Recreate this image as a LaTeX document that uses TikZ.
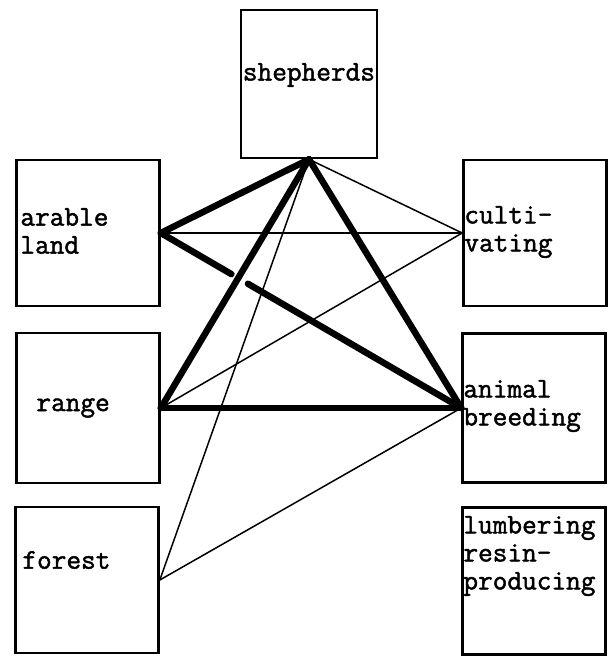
\documentclass[tikz,border=0pt]{standalone}
\usepackage{fontspec}
\newfontfamily\typer{Latin Modern Mono}[FakeBold=1.6]
\usetikzlibrary{calc}

\begin{document}
\begin{tikzpicture}[x=1pt, y=-1pt,
    box/.style={draw, line width=2.6pt, inner sep=0pt, minimum width=143pt, minimum height=146pt},
    tag/.style={anchor=west, align=left, inner sep=0pt, font=\fontsize{28.5}{28}\typer},
    strong link/.style={draw, line width=6.5pt, line cap=round},
    weak link/.style={draw, line width=1.5pt}
  ]
  \useasboundingbox (0,0) rectangle (612,658);

  % the seven boxes
  \node[box, minimum width=136pt, minimum height=148pt] (shepherds) at (309,84) {};
  \node[box] (arable) at (88,233) {};
  \node[box] (cultivating) at (535,233) {};
  \node[box, minimum height=150pt] (range) at (88,408) {};
  \node[box, minimum height=149pt] (breeding) at (534,408) {};
  \node[box] (forest) at (87,580) {};
  \node[box, minimum height=147pt] (lumbering) at (534,581) {};

  \node[tag] (shepherds text) at ([xshift=3pt, yshift=9pt]shepherds.west) {shepherds};
  \node[tag] (arable text) at ([xshift=5pt, yshift=2pt]arable.west) {arable\\land};
  \node[tag] (cultivating text) at ([xshift=2pt, yshift=1pt]cultivating.west) {culti-\\vating};
  \node[tag] (range text) at ([xshift=21pt]range.west) {range};
  \node[tag] (breeding text) at ([xshift=2pt, yshift=2pt]breeding.west) {animal\\breeding};
  \node[tag] (forest text) at ([xshift=8pt, yshift=20pt]forest.west) {forest};
  \node[tag] (lumbering text) at ([xshift=2pt, yshift=25pt]lumbering.west) {lumbering\\resin-\\producing};

  % weak ties
  \begin{scope}[every path/.style={weak link}]
    \path (shepherds.south) -- (cultivating.west);
    \path (shepherds.south) -- (forest.east);
    \path (arable.east) -- (cultivating.west);
    \path (range.east) -- (cultivating.west);
    \path (forest.east) -- (breeding.west);
  \end{scope}

  % strong ties
  \begin{scope}[every path/.style={strong link}]
    \path (shepherds.south) -- (arable.east);
    \path (shepherds.south) -- (range.east);
    \path (shepherds.south) -- (breeding.west);
    \path (range.east) -- (breeding.west);
    \path (arable.east) -- ($(arable.east)!0.235!(breeding.west)$);
    \path ($(arable.east)!0.29!(breeding.west)$) -- (breeding.west);
  \end{scope}
\end{tikzpicture}
\end{document}
